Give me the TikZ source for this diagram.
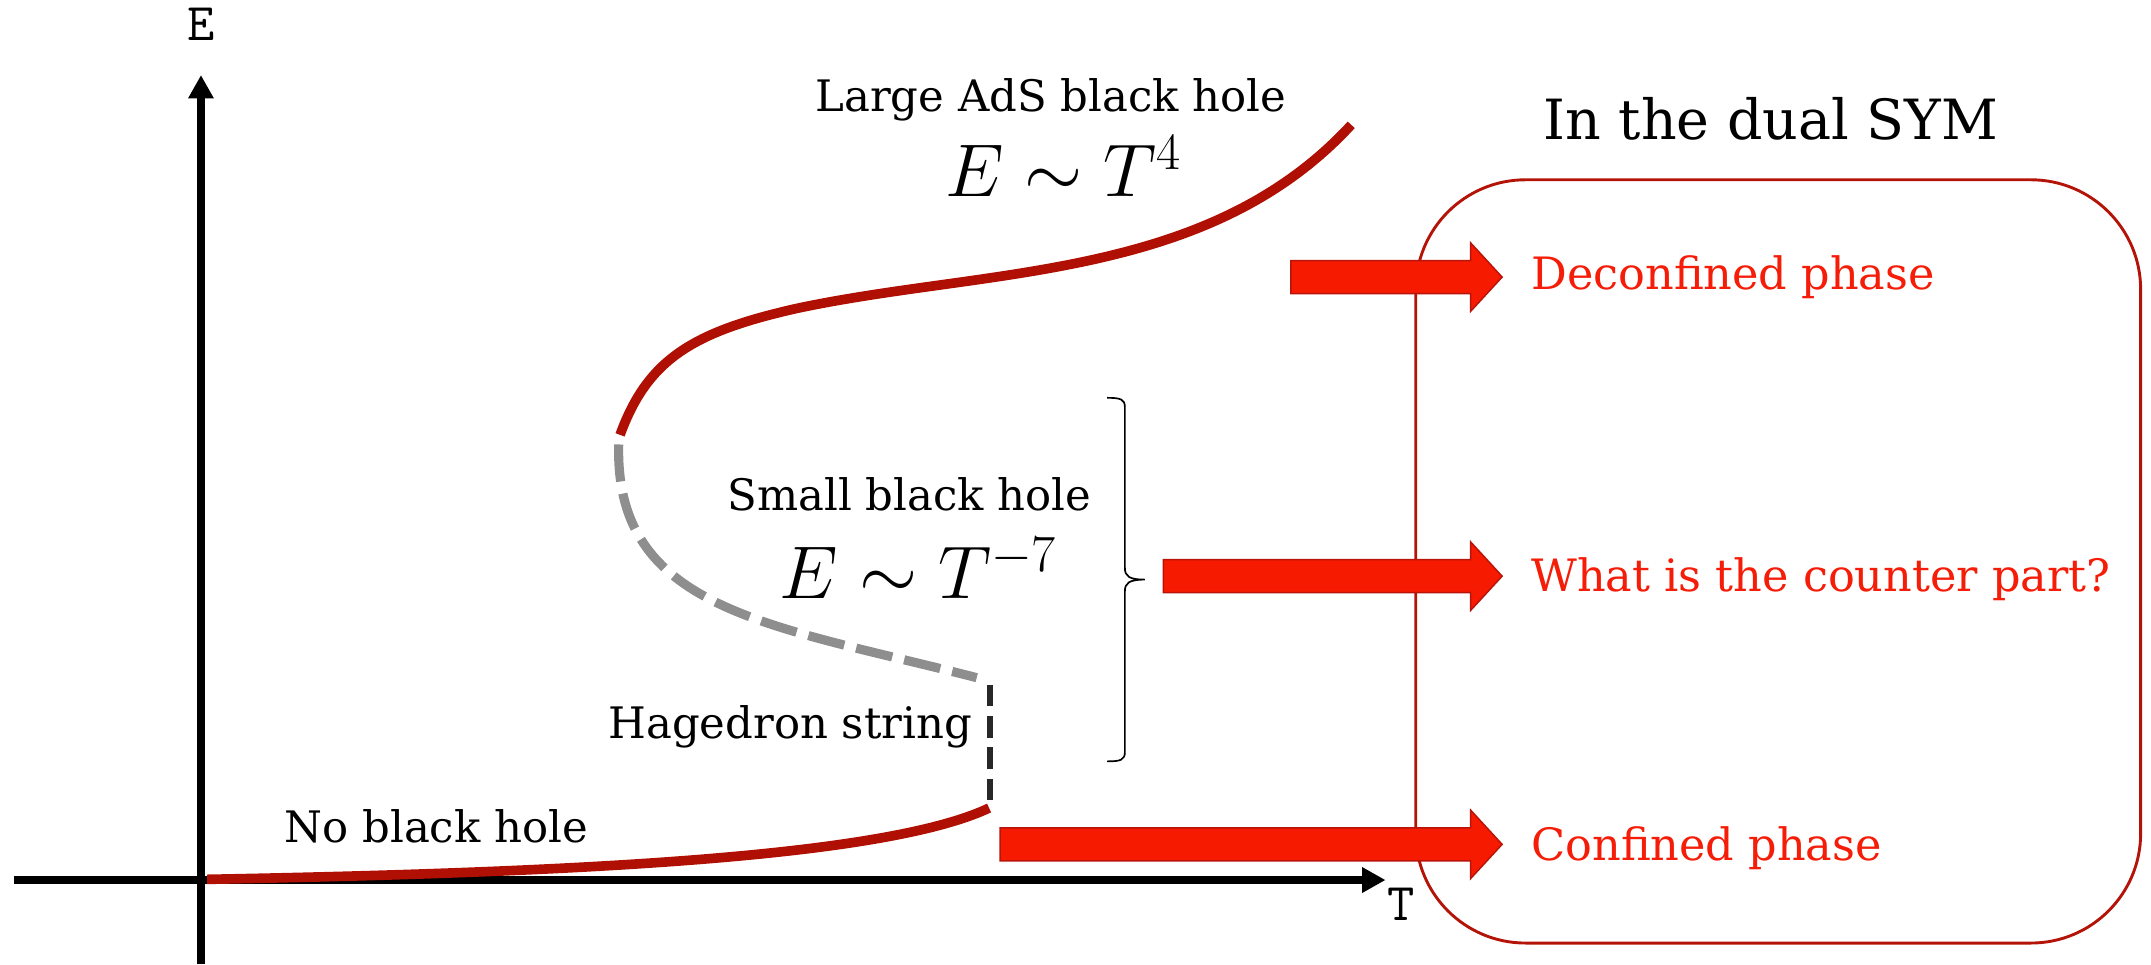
\documentclass[tikz,border=0pt]{standalone}
\usepackage{fix-cm}
\usepackage[no-math]{fontspec}
\setmainfont{DejaVu Serif}
\usetikzlibrary{arrows.meta,calc}
\definecolor{curvered}{RGB}{176,16,4}
\definecolor{boxred}{RGB}{180,20,8}
\definecolor{arrowfill}{RGB}{246,26,0}
\definecolor{arrowline}{RGB}{185,20,10}
\definecolor{textred}{RGB}{245,28,8}
\definecolor{dashgray}{RGB}{142,142,142}
\definecolor{dashdark}{RGB}{40,40,40}
\newcommand\phasearrow[2]{%
  \filldraw[blockarrow] ($(#1)+(0,-12)$) -- ($(#2)+(-23,-12)$) -- ($(#2)+(-23,-25)$) -- (#2) -- ($(#2)+(-23,25)$) -- ($(#2)+(-23,12)$) -- ($(#1)+(0,12)$) -- cycle;}
\begin{document}
\begin{tikzpicture}[x=0.02cm,y=-0.02cm,
  axis/.style={line width=3pt,-{Triangle[length=9.7pt,width=10pt]}},
  phasecurve/.style={line width=4pt,curvered},
  unstable/.style={line width=3.8pt,dashgray,dash pattern=on 15.4pt off 5.1pt},
  hagedorn/.style={line width=2.6pt,dashdark,dash pattern=on 9pt off 4pt},
  lbl/.style={font=\fontsize{18}{21}\selectfont,inner sep=0pt,anchor=base},
  formula/.style={font=\fontsize{31}{37}\selectfont,inner sep=0pt,anchor=base},
  phase/.style={font=\fontsize{18.5}{22}\selectfont,text=textred,inner sep=0pt,anchor=base west},
  title/.style={font=\fontsize{23}{27}\selectfont,inner sep=0pt,anchor=base},
  axlabel/.style={font=\ttfamily\fontsize{22}{25}\selectfont,inner sep=0pt,anchor=base},
  blockarrow/.style={fill=arrowfill,draw=arrowline,line width=0.6pt,line join=miter},
  dualbox/.style={draw=boxred,line width=1.2pt,rounded corners=1.6cm,inner sep=0pt},
  bracestyle/.style={draw=black,line width=0.7pt}
]
\useasboundingbox (0,0) rectangle (1568,703);

% dual box
\node[dualbox,minimum width=10.57cm,minimum height=11.13cm] (box) at (1296.25,409.25) {};

% axes
\coordinate (ybot) at (146.5,703);
\coordinate (ytop) at (146.5,54.7);
\coordinate (xleft) at (10,641.5);
\coordinate (xright) at (1010,641.5);
\draw[axis] (ybot) -- (ytop);
\draw[axis] (xleft) -- (xright);
\node[axlabel] (Elab) at (146.5,29.6) {E};
\node[axlabel] (Tlab) at (1021.5,671) {T};

% curves
\coordinate (lowA) at (151,641);
\coordinate (lowB) at (721,589);
\draw[phasecurve] (lowA) .. controls (420,636) and (645,625) .. (lowB);
\coordinate (hagTop) at (721.5,499);
\coordinate (hagBot) at (721.5,586);
\draw[hagedorn] (hagTop) -- (hagBot);
\coordinate (grayTop) at (451,324);
\coordinate (grayBot) at (712,494);
\draw[unstable] (grayTop) .. controls (448,445) and (560,455) .. (grayBot);
\coordinate (upA) at (452,317);
\coordinate (upB) at (985,91);
\draw[phasecurve] (upA) .. controls (472,262) and (505,242) .. (580,225)
  .. controls (720,195) and (880,205) .. (upB);

% brace
\coordinate (brTop) at (807,290);
\coordinate (brTip) at (834.5,422.5);
\coordinate (brBot) at (807,555);
\draw[bracestyle] (brTop) .. controls (817,290) and (820,291) .. (820,297) -- (820,414)
  .. controls (820,420) and (823,422.5) .. (brTip)
  .. controls (823,422.5) and (820,425) .. (820,431) -- (820,548)
  .. controls (820,554) and (817,555) .. (brBot);

% labels
\node[lbl] (large) at (766,81.5) {Large AdS black hole};
\node[formula] (f4) at (775.5,143.5) {$E\sim T^4$};
\node[lbl] (small) at (663,372) {Small black hole};
\node[formula] (f7) at (669.5,436) {$E\sim T^{-7}$};
\node[lbl] (hag) at (576,538) {Hagedron string};
\node[lbl] (nobh) at (318,614) {No black hole};

\node[title] (dual) at (1291,102) {In the dual SYM};
\node[phase] (dec) at (1116,211) {Deconfined phase};
\node[phase] (what) at (1116,431.5) {What is the counter part?};
\node[phase] (conf) at (1116,627) {Confined phase};

% block arrows
\coordinate (a1s) at (941,202);
\coordinate (a2s) at (848,420);
\coordinate (a3s) at (729,615.5);
\coordinate (a1e) at ($(a1s -| dec.west)+(-21,0)$);
\coordinate (a2e) at ($(a2s -| what.west)+(-21,0)$);
\coordinate (a3e) at ($(a3s -| conf.west)+(-21,0)$);
\phasearrow{a1s}{a1e}
\phasearrow{a2s}{a2e}
\phasearrow{a3s}{a3e}
\end{tikzpicture}
\end{document}
